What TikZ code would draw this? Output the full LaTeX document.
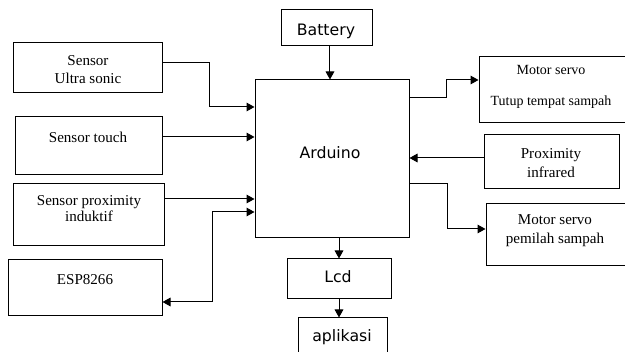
\documentclass[tikz,border=0pt]{standalone}
\usepackage{fontspec}
\setmainfont{Liberation Serif}
\newfontfamily\guifont{DejaVu Sans}
\usetikzlibrary{arrows.meta, positioning}

\begin{document}
\begin{tikzpicture}[x=0.75pt, y=-0.75pt,
  blok/.style={rectangle, draw, line width=0.75pt, inner sep=0pt},
  teks/.style={font=\fontsize{11.3}{13.5}\selectfont, align=center, inner sep=0pt},
  tekssans/.style={font=\guifont\fontsize{11.8}{13}\selectfont, inner sep=0pt},
  panah/.style={-{Triangle[length=6pt,width=6.5pt]}, line width=0.75pt},
  panahdua/.style={{Triangle[length=6pt,width=6.5pt]}-{Triangle[length=6pt,width=6.5pt]}, line width=0.75pt}
]
\useasboundingbox (0,0) rectangle (625,352);
\clip (0,0) rectangle (625,352);

% kotak-kotak
\node[blok, minimum width=111.75pt, minimum height=37.5pt] (us)    at (87.5,68)  {};
\node[blok, minimum width=110.25pt, minimum height=43.5pt] (touch) at (88.5,146) {};
\node[blok, minimum width=113.25pt, minimum height=46.5pt] (ind)   at (88.5,215) {};
\node[blok, minimum width=115.5pt,  minimum height=42pt]   (esp)   at (85,288)   {};
\node[blok, minimum width=68.25pt,  minimum height=27pt]   (bat)   at (326.5,28) {};
\node[blok, minimum width=115.5pt,  minimum height=118.5pt](ard)   at (332,159)  {};
\node[blok, minimum width=120.75pt, minimum height=49.5pt] (ms1)   at (559.5,90) {};
\node[blok, minimum width=101.25pt, minimum height=40.5pt] (prox)  at (551.5,162){};
\node[blok, minimum width=108pt,    minimum height=46.5pt] (ms2)   at (558,235)  {};
\node[blok, minimum width=78pt,     minimum height=30pt]   (lcd)   at (339,279)  {};
\node[blok, minimum width=66.75pt,  minimum height=31.5pt] (apl)   at (342.5,339){};

% tulisan
\node[teks] (usT)    at (88,70)   {Sensor\\Ultra sonic};
\node[teks] (touchT) at (88,137)  {Sensor touch};
\node[teks, font=\fontsize{11.3}{12}\selectfont] (indT) at (89,209) {Sensor proximity\\induktif};
\node[teks] (espT)   at (85,280)  {ESP8266};
\node[tekssans] (batT) at (326,31)  {Battery};
\node[tekssans] (ardT) at (330,153) {Arduino};
\node[teks, font=\fontsize{10.5}{23.25}\selectfont] (ms1T) at (551,87) {Motor servo\\Tutup tempat sampah};
\node[teks, font=\fontsize{11.3}{14.25}\selectfont] (proxT) at (551,163) {Proximity\\infrared};
\node[teks, font=\fontsize{11.3}{14.25}\selectfont] (ms2T)  at (555,231) {Motor servo\\pemilah sampah};
\node[tekssans] (lcdT) at (338,277) {Lcd};
\node[tekssans] (aplT) at (342,337) {aplikasi};

% panah
\draw[panah] (us.east |- 0,63) -| (209,107) -- (ard.west |- 0,107);
\draw[panah] (touch.east |- 0,137) -- (ard.west |- 0,137);
\draw[panah] (ind.east |- 0,199) -- (ard.west |- 0,199);
\draw[panahdua] (ard.west |- 0,212) -| (212,302) -- (esp.east |- 0,302);
\draw[panah] ([xshift=2.6pt]bat.south) -- ([xshift=2.6pt]bat.south |- ard.north);
\draw[panah] (ard.east |- 0,98) -| (446,80) -- (ms1.west |- 0,80);
\draw[panah] (prox.west |- 0,158) -- (ard.east |- 0,158);
\draw[panah] (ard.east |- 0,184) -| (447,229) -- (ms2.west |- 0,229);
\draw[panah] (ard.south -| lcd.north) -- (lcd.north);
\draw[panah] (lcd.south) -- (lcd.south |- apl.north);
\end{tikzpicture}
\end{document}
